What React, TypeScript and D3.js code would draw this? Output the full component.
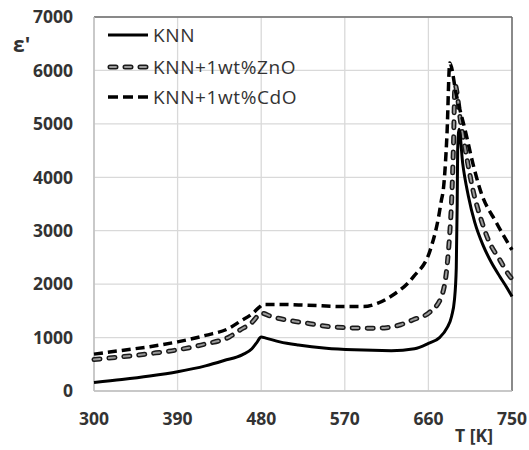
import React, { useEffect, useRef } from "react";
import * as d3 from "d3";

// temperature (K) and permittivity readings for each sample
const knnT = [300, 330, 360, 390, 420, 440, 460, 470, 475, 480, 485, 500, 520, 550, 580, 620, 645, 660, 672, 680, 685, 688, 690, 691, 691.5, 693, 697, 703, 710, 719, 728, 737, 745, 750];
const knnEps = [160, 215, 280, 360, 470, 570, 680, 790, 900, 1010, 990, 920, 860, 800, 770, 755, 790, 890, 1000, 1180, 1400, 1700, 2300, 3500, 4500, 4900, 4250, 3650, 3150, 2720, 2400, 2140, 1920, 1770];

const znoT = [300, 330, 360, 390, 420, 446, 457, 471, 476, 481, 490, 507, 529, 550, 572, 600, 615, 630, 643, 662, 674, 680, 683, 685, 687, 688.6, 695, 702, 708, 716, 724.5, 737, 748, 750];
const znoEps = [590, 640, 700, 770, 880, 1015, 1140, 1300, 1400, 1455, 1400, 1330, 1270, 1210, 1185, 1175, 1185, 1240, 1330, 1485, 1765, 2325, 2955, 3570, 4600, 5730, 5000, 4300, 3760, 3250, 2830, 2450, 2140, 2100];

const cdoT = [300, 330, 360, 390, 420, 446, 457, 471, 478, 482, 500, 530, 571, 590, 605, 619, 644, 662, 671, 674, 676, 680, 683, 690, 700, 708, 716, 733.5, 750];
const cdoEps = [690, 760, 830, 920, 1040, 1180, 1300, 1455, 1570, 1620, 1620, 1605, 1580, 1580, 1640, 1765, 2140, 2640, 3260, 3570, 3760, 4800, 6140, 5550, 4850, 4250, 3750, 3140, 2640];

const xTicks = [300, 390, 480, 570, 660, 750];
const yTicks = [0, 1000, 2000, 3000, 4000, 5000, 6000, 7000];
const legendLabels = ["KNN", "KNN+1wt%ZnO", "KNN+1wt%CdO"];

export default function App() {
    const ref = useRef<SVGSVGElement>(null);

    useEffect(() => {
        const width = 529;
        const height = 450;
        const left = 94, right = 512, top = 17, bottom = 391;

        const x = d3.scaleLinear().domain([300, 750]).range([left, right]);
        const y = d3.scaleLinear().domain([0, 7000]).range([bottom, top]);

        const svg = d3.select(ref.current);
        svg.selectAll("*").remove();
        svg.attr("width", width).attr("height", height);

        svg.append("rect").attr("width", width).attr("height", height).attr("fill", "#fff");

        // grid
        svg.selectAll(".gy").data(yTicks).enter().append("line")
            .attr("x1", left).attr("x2", right)
            .attr("y1", d => y(d)).attr("y2", d => y(d))
            .attr("stroke", "#d9d9d9").attr("stroke-width", 1.3);
        svg.selectAll(".gx").data(xTicks).enter().append("line")
            .attr("y1", top).attr("y2", bottom)
            .attr("x1", d => x(d)).attr("x2", d => x(d))
            .attr("stroke", "#d9d9d9").attr("stroke-width", 1.3);

        // frame: top/right darker
        svg.append("line").attr("x1", left).attr("x2", right).attr("y1", top).attr("y2", top)
            .attr("stroke", "#6b6b6b").attr("stroke-width", 1.5);
        svg.append("line").attr("x1", right).attr("x2", right).attr("y1", top).attr("y2", bottom)
            .attr("stroke", "#6b6b6b").attr("stroke-width", 1.5);
        svg.append("line").attr("x1", left).attr("x2", left).attr("y1", top).attr("y2", bottom)
            .attr("stroke", "#bfbfbf").attr("stroke-width", 1.5);
        svg.append("line").attr("x1", left).attr("x2", right).attr("y1", bottom).attr("y2", bottom)
            .attr("stroke", "#bfbfbf").attr("stroke-width", 1.5);

        const line = d3.line<[number, number]>()
            .x(d => x(d[0])).y(d => y(d[1]))
            .curve(d3.curveMonotoneX);

        const knn = knnT.map((t, i) => [t, knnEps[i]] as [number, number]);
        const zno = znoT.map((t, i) => [t, znoEps[i]] as [number, number]);
        const cdo = cdoT.map((t, i) => [t, cdoEps[i]] as [number, number]);

        const g = svg.append("g").attr("fill", "none");

        // ZnO: hollow oval dashes
        g.append("path").attr("d", line(zno))
            .attr("stroke", "#1a1a1a").attr("stroke-width", 5)
            .attr("stroke-dasharray", "6,9").attr("stroke-linecap", "round");
        g.append("path").attr("d", line(zno))
            .attr("stroke", "#9a9a9a").attr("stroke-width", 2)
            .attr("stroke-dasharray", "6,9").attr("stroke-linecap", "round");

        g.append("path").attr("d", line(cdo))
            .attr("stroke", "#000").attr("stroke-width", 3.5)
            .attr("stroke-dasharray", "9,5");

        g.append("path").attr("d", line(knn))
            .attr("stroke", "#000").attr("stroke-width", 3);

        // axis labels
        const font = "'Open Sans', sans-serif";
        svg.selectAll(".yl").data(yTicks).enter().append("text")
            .attr("x", 73).attr("y", d => y(d)).attr("dy", "0.36em")
            .attr("text-anchor", "end")
            .attr("font-family", font).attr("font-weight", "bold").attr("font-size", 17.5)
            .attr("fill", "#333").text(d => d);
        svg.selectAll(".xl").data(xTicks).enter().append("text")
            .attr("x", d => x(d)).attr("y", 425)
            .attr("text-anchor", "middle")
            .attr("font-family", font).attr("font-weight", "bold").attr("font-size", 17.5)
            .attr("fill", "#333").text(d => d);

        svg.append("text").attr("x", 474).attr("y", 442).attr("text-anchor", "middle")
            .attr("font-family", font).attr("font-weight", "bold").attr("font-size", 17.5)
            .attr("fill", "#333").text("T [K]");
        svg.append("text").attr("x", 13).attr("y", 52)
            .attr("font-family", font).attr("font-weight", "bold").attr("font-size", 21)
            .attr("fill", "#333").text("ε'");

        // legend
        const ly = [35, 67, 97];
        const lg = svg.append("g");
        lg.append("line").attr("x1", 108).attr("x2", 148).attr("y1", ly[0]).attr("y2", ly[0])
            .attr("stroke", "#000").attr("stroke-width", 3);
        lg.append("line").attr("x1", 110).attr("x2", 150).attr("y1", ly[1]).attr("y2", ly[1])
            .attr("stroke", "#1a1a1a").attr("stroke-width", 5)
            .attr("stroke-dasharray", "6,9").attr("stroke-linecap", "round");
        lg.append("line").attr("x1", 110).attr("x2", 150).attr("y1", ly[1]).attr("y2", ly[1])
            .attr("stroke", "#9a9a9a").attr("stroke-width", 2)
            .attr("stroke-dasharray", "6,9").attr("stroke-linecap", "round");
        lg.append("line").attr("x1", 108).attr("x2", 148).attr("y1", ly[2]).attr("y2", ly[2])
            .attr("stroke", "#000").attr("stroke-width", 3.5)
            .attr("stroke-dasharray", "10,5");
        lg.selectAll("text").data(legendLabels).enter().append("text")
            .attr("x", 153).attr("y", (d, i) => ly[i]).attr("dy", "0.36em")
            .attr("font-family", font).attr("font-size", 19).attr("letter-spacing", 0.6)
            .attr("fill", "#333").text(d => d);
    }, []);

    return (
        <svg ref={ref} style={{ position: "absolute", left: 0, top: 0 }}></svg>
    );
}
